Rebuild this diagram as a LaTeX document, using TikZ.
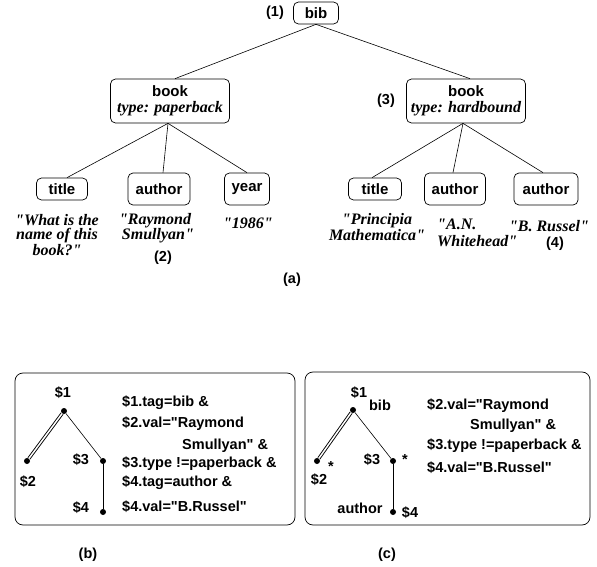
\documentclass[tikz,border=0pt]{standalone}
\usepackage{fontspec}
\setmainfont{Liberation Serif}[Ligatures=TeXOff]
\setsansfont{Liberation Sans}[Ligatures=TeXOff]
\usetikzlibrary{positioning}

\begin{document}
\begin{tikzpicture}[x=1pt, y=-1pt,
    tag/.style={draw, rounded corners=5pt, line width=0.7pt, inner sep=0pt,
                minimum height=22pt, font=\sffamily\bfseries\fontsize{15}{16}\selectfont},
    tagtall/.style={tag, minimum height=32pt},
    val/.style={inner sep=0pt, align=center,
                font=\bfseries\itshape\fontsize{16}{14.5}\selectfont},
    num/.style={inner sep=0pt, font=\sffamily\bfseries\fontsize{14.5}{16}\selectfont},
    cond/.style={num, align=left, anchor=north west,
                font=\sffamily\bfseries\fontsize{14.5}{18}\selectfont},
    dot/.style={circle, fill=black, inner sep=0pt, minimum size=6pt},
    edge/.style={line width=0.6pt},
    panel/.style={draw, rounded corners=8pt, line width=0.7pt},
]
\useasboundingbox (0,0) rectangle (597,567);

% --- (a) document tree ---
\node[tag, minimum width=45pt] (bib) at (316,13) {bib};
\node[num] (n1) at (275,13) {(1)};
\node[tag, minimum width=119pt, minimum height=44pt, align=center] (bookl) at (170,101)
  {book\\[0pt]{\rmfamily\itshape\fontsize{16}{17}\selectfont type: paperback}};
\node[tag, minimum width=119pt, minimum height=44pt, align=center] (bookr) at (466,101)
  {book\\[0pt]{\rmfamily\itshape\fontsize{16}{17}\selectfont type: hardbound}};
\node[num] (n3) at (386,101) {(3)};
\draw[edge] (bib.south) -- ([xshift=5pt]bookl.north);
\draw[edge] (bib.south) -- ([xshift=4pt]bookr.north);

% left book
\node[tag, minimum width=51pt] (titlel) at (62,189) {title};
\node[tagtall, minimum width=62pt] (authorl) at (159,189) {author};
\node[tagtall, minimum width=45pt] (year) at (247,189) {year};
\draw[edge] ([xshift=-2pt]bookl.south) -- ([xshift=5pt]titlel.north);
\draw[edge] ([xshift=-2pt]bookl.south) -- ([xshift=4pt]authorl.north);
\draw[edge] ([xshift=-2pt]bookl.south) -- (year.north);
\node[val] (vtitlel) at (57,235) {"What is the\\name of this\\book?"};
\node[val] (vauthorl) at (155,228) {"Raymond\\\hspace*{6pt}Smullyan"};
\node[num] (n2) at (163,258) {(2)};
\node[val] (vyear) at (248,223) {"1986"};

% right book
\node[tag, minimum width=53pt] (titler) at (375,189) {title};
\node[tagtall, minimum width=61pt] (authorr) at (455,189) {author};
\node[tagtall, minimum width=64pt] (authorrr) at (546,189) {author};
\draw[edge] ([xshift=-3pt]bookr.south) -- ([xshift=-3pt]titler.north);
\draw[edge] ([xshift=-3pt]bookr.south) -- ([xshift=-2pt]authorr.north);
\draw[edge] ([xshift=-3pt]bookr.south) -- ([xshift=-3pt]authorrr.north);
\node[val] (vtitler) at (377,227) {"Principia\\Mathematica"};
\node[val, align=left, anchor=west, font=\bfseries\itshape\fontsize{16}{17}\selectfont]
  (vauthorr) at (437,233) {"A.N.\\Whitehead"};
\node[val] (vauthorrr) at (549,226) {"B. Russel"};
\node[num] (n4) at (555,244) {(4)};

\node[num] (capa) at (292,280) {(a)};

% --- (b) query pattern ---
\draw[panel] (15,373) rectangle (295,525);
\node[dot] (b1) at (64,411) {};
\node[dot] (b2) at (27,461) {};
\node[dot] (b3) at (103,461) {};
\node[dot] (b4) at (103,512) {};
\draw[line width=0.9pt, double, double distance=1.5pt] (b1) -- (b2);
\draw[edge] (b1) -- (b3);
\draw[edge, line width=0.9pt] (b3) -- (b4);
\node[num] (lb1) at (63,393) {\$1};
\node[num] (lb2) at (28,482) {\$2};
\node[num] (lb3) at (81,460) {\$3};
\node[num] (lb4) at (81,508) {\$4};
\node[cond] (condb) at (122,396)
  {\$1.tag=bib \&\\[3pt]
   \$2.val="Raymond\\[4pt]
   \hspace*{60pt}Smullyan" \&\\[0pt]
   \$3.type !=paperback \&\\[1pt]
   \$4.tag=author \&\\[7pt]
   \$4.val="B.Russel"};
\node[num] (capb) at (88,555) {(b)};

% --- (c) rewritten pattern ---
\draw[panel] (305,372) rectangle (590,525);
\node[dot] (c1) at (353,410) {};
\node[dot] (c2) at (317,461) {};
\node[dot] (c3) at (393,461) {};
\node[dot] (c4) at (393,512) {};
\draw[line width=0.9pt, double, double distance=1.5pt] (c1) -- (c2);
\draw[edge] (c1) -- (c3);
\draw[edge, line width=0.9pt] (c3) -- (c4);
\node[num] (lc1) at (359,393) {\$1};
\node[num] (lcbib) at (380,405) {bib};
\node[num] (lc2) at (319,480) {\$2};
\node[num] (sc2) at (331,467) {*};
\node[num] (lc3) at (372,460) {\$3};
\node[num] (sc3) at (405,460) {*};
\node[num] (lcauth) at (360,508) {author};
\node[num] (lc4) at (410,513) {\$4};
\node[cond] (condc) at (427,399)
  {\$2.val="Raymond\\[2pt]
   \hspace*{43pt}Smullyan" \&\\[2pt]
   \$3.type !=paperback \&\\[5pt]
   \$4.val="B.Russel"};
\node[num] (capc) at (387,555) {(c)};

\end{tikzpicture}
\end{document}
